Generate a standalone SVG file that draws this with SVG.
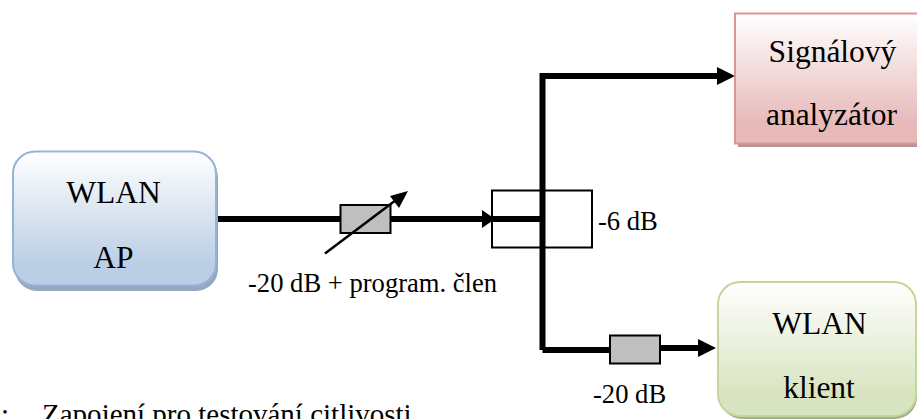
<svg xmlns="http://www.w3.org/2000/svg" width="917" height="419" viewBox="0 0 917 419">
<defs>
<linearGradient id="gb" x1="0" y1="0" x2="0" y2="1"><stop offset="0" stop-color="#ffffff"/><stop offset="0.85" stop-color="#bacee5"/><stop offset="1" stop-color="#bacee5"/></linearGradient>
<linearGradient id="gr" x1="0" y1="0" x2="0" y2="1"><stop offset="0" stop-color="#ffffff"/><stop offset="0.85" stop-color="#e7b9b9"/><stop offset="1" stop-color="#e7b9b9"/></linearGradient>
<linearGradient id="gg" x1="0" y1="0" x2="0" y2="1"><stop offset="0" stop-color="#ffffff"/><stop offset="0.85" stop-color="#d8e4bf"/><stop offset="1" stop-color="#d8e4bf"/></linearGradient>
</defs>
<style>
text{font-family:"Liberation Serif","Times New Roman",serif;fill:#000}
.big{font-size:31.500px;text-anchor:middle}
.small{font-size:26.600px}
.cap{font-size:29px}
.wire{fill:none;stroke:#000;stroke-width:6}
.att{fill:#bfbfbf;stroke:#000;stroke-width:2}
</style>
<g id="connectors">
<path class="wire" d="M217 219H484"/>
<path d="M482 210L495 219L482 228Z"/>
<path class="wire" d="M492 219H542.500"/>
<path class="wire" d="M542.500 350V76H719"/>
<path d="M717 67L735 76L717 85Z"/>
<path class="wire" d="M542.500 350H612"/>
<path class="wire" d="M658 348H700"/>
<path d="M698 339L716 348L698 357Z"/>
</g>
<g id="wlan-ap">
<rect x="15" y="156" width="203" height="135" rx="22" fill="#95a8c0"/>
<rect x="13" y="151.500" width="203" height="134" rx="22" fill="url(#gb)" stroke="#95b3d7" stroke-width="2"/>
<text class="big" x="113.500" y="203">WLAN</text>
<text class="big" x="113.500" y="268">AP</text>
</g>
<g id="attenuator-1">
<rect class="att" x="340.500" y="205" width="50" height="28"/>
<path d="M325 253.500L396 200" fill="none" stroke="#000" stroke-width="2.500"/>
<path d="M408 191L399 208L390 196Z"/>
<text class="small" x="248" y="292">-20 dB + program. člen</text>
</g>
<g id="splitter">
<rect x="492" y="190.500" width="100" height="57" fill="none" stroke="#000" stroke-width="2"/>
<text class="small" x="598" y="230">-6 dB</text>
</g>
<g id="signal-analyzer">
<rect x="738" y="18" width="182" height="129" fill="#b89494"/>
<rect x="735" y="13.500" width="186" height="130" fill="url(#gr)" stroke="#d99694" stroke-width="2"/>
<text class="big" x="832.500" y="62">Signálový</text>
<text class="big" x="831.500" y="125">analyzátor</text>
</g>
<g id="attenuator-2">
<rect class="att" x="610" y="335.500" width="50" height="28"/>
<text class="small" x="593" y="403">-20 dB</text>
</g>
<g id="wlan-client">
<rect x="720" y="286" width="197" height="133" rx="22" fill="#a3ad90"/>
<rect x="718" y="282" width="198" height="134" rx="22" fill="url(#gg)" stroke="#c3d69b" stroke-width="2"/>
<text class="big" x="819.500" y="334">WLAN</text>
<text class="big" x="819" y="398">klient</text>
</g>
<g id="caption">
<text class="cap" x="1" y="424">:</text>
<text class="cap" x="42" y="424">Zapojení pro testování citlivosti</text>
</g>
</svg>
